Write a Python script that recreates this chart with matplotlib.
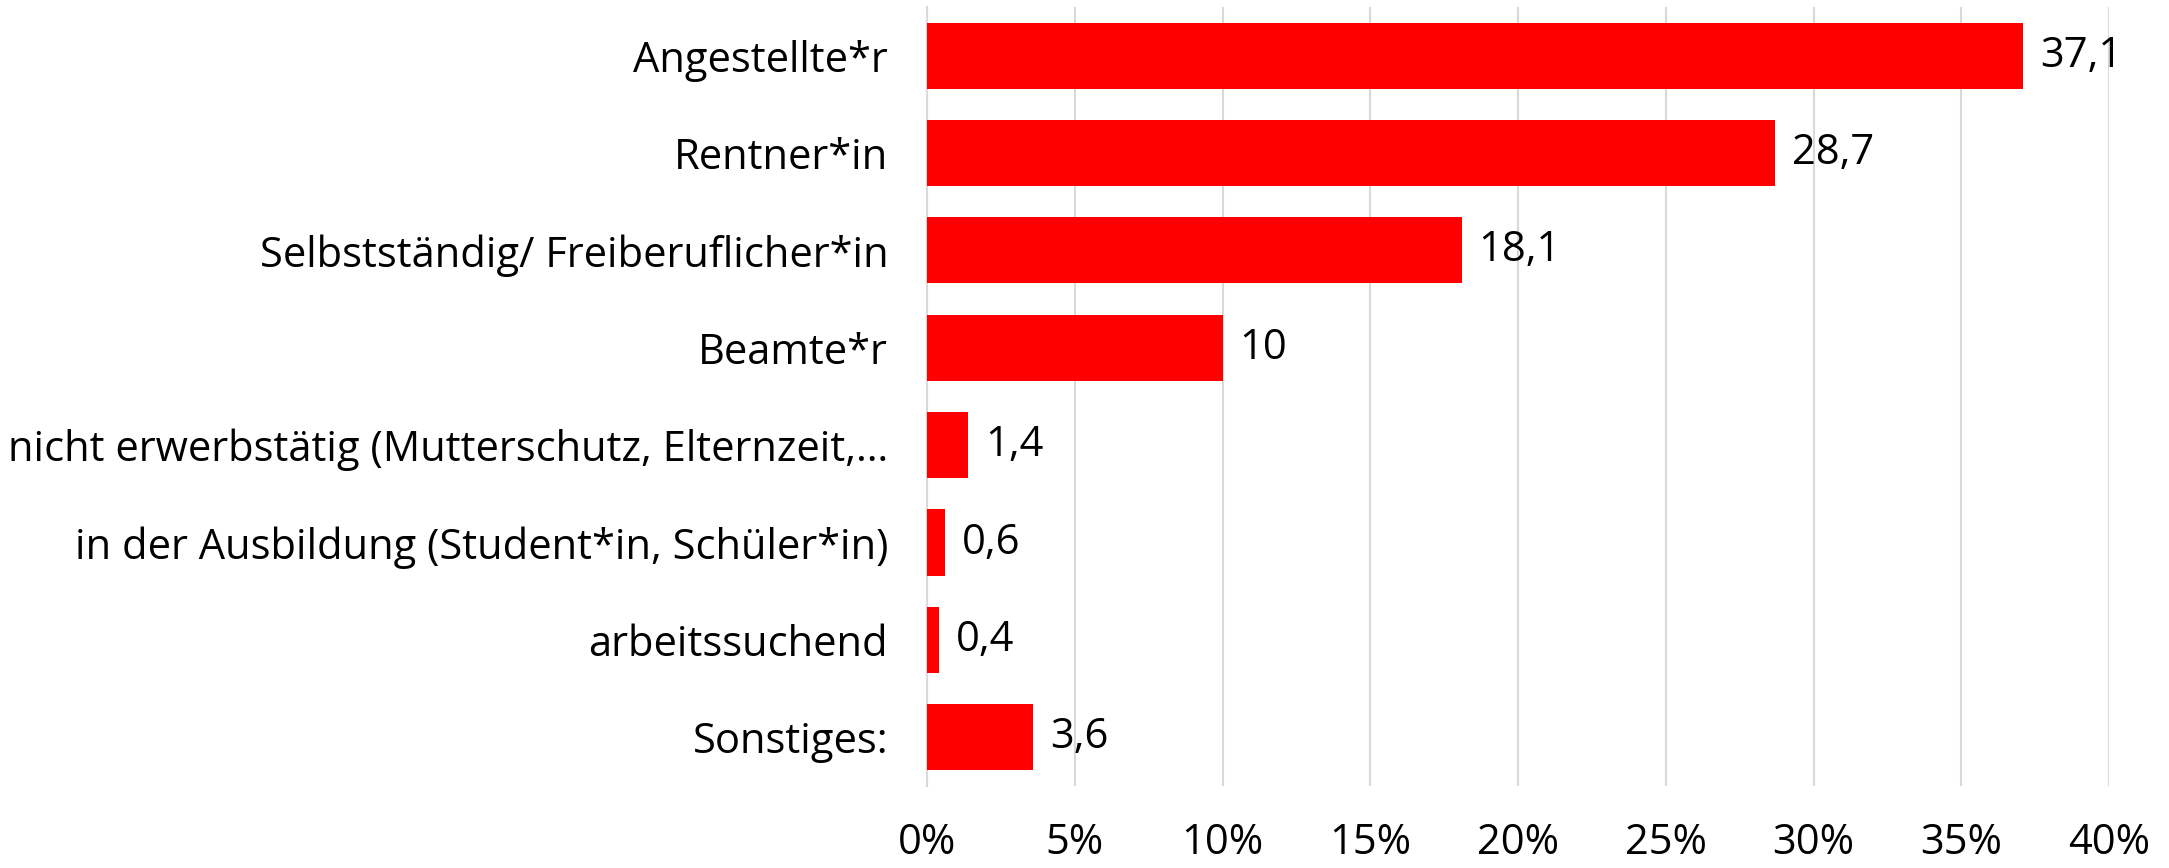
import matplotlib.pyplot as plt
from matplotlib.ticker import FuncFormatter

plt.rcParams['font.family'] = ['Open Sans', 'DejaVu Sans']

categories = [
    'Angestellte*r',
    'Rentner*in',
    'Selbstständig/ Freiberuflicher*in',
    'Beamte*r',
    'nicht erwerbstätig (Mutterschutz, Elternzeit,…',
    'in der Ausbildung (Student*in, Schüler*in)',
    'arbeitssuchend',
    'Sonstiges:',
]
values = [37.1, 28.7, 18.1, 10, 1.4, 0.6, 0.4, 3.6]
value_labels = ['37,1', '28,7', '18,1', '10', '1,4', '0,6', '0,4', '3,6']
x_ticks = [0, 5, 10, 15, 20, 25, 30, 35, 40]

fig = plt.figure(figsize=(21.69, 8.68), dpi=100)
ax = fig.add_axes([0.4274, 0.0945, 0.545, 0.8975])

ypos = list(range(len(categories)))
bars = ax.barh(ypos, values, height=0.68, color='#FF0000', zorder=3)

for bar, lab in zip(bars, value_labels):
    ax.annotate(lab, (bar.get_width(), bar.get_y() + bar.get_height() / 2),
                xytext=(12, 0), textcoords='offset points',
                va='center', ha='left', fontsize=30, color='black')

ax.set_yticks(ypos)
ax.set_yticklabels(categories, fontsize=30)
ax.set_ylim(len(categories) - 0.5, -0.5)
ax.set_xlim(0, 40)
ax.set_xticks(x_ticks)
ax.xaxis.set_major_formatter(FuncFormatter(lambda v, p: f'{v:.0f}%'))
ax.tick_params(axis='x', labelsize=30, length=0, pad=26)
ax.tick_params(axis='y', length=0, pad=28)

ax.grid(axis='x', color='#d9d9d9', linewidth=1.5, zorder=0)
for s in ['top', 'right', 'bottom']:
    ax.spines[s].set_visible(False)
ax.spines['left'].set_color('#d9d9d9')
ax.spines['left'].set_linewidth(1.5)

fig.savefig('out.png', dpi=100)
